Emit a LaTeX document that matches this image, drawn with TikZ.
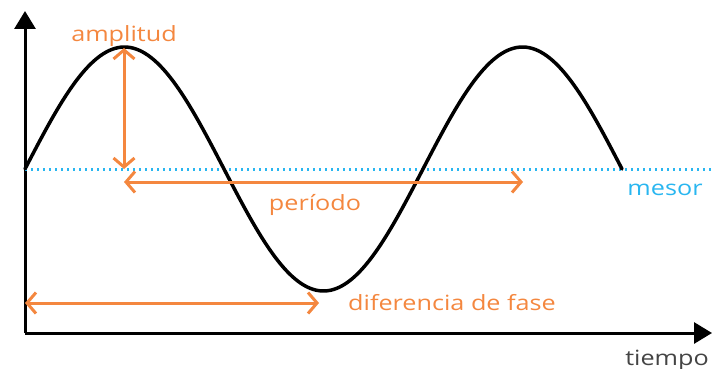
\documentclass[tikz,border=0pt]{standalone}
\usepackage{fontspec}
\setmainfont{Open Sans}[FakeStretch=1.2]
\usetikzlibrary{positioning, arrows.meta}
\definecolor{orangeline}{HTML}{F4873F}
\definecolor{mesorblue}{HTML}{29B6F0}
\definecolor{axisgray}{HTML}{444444}
\tikzset{
    axisline/.style={line width=3pt, -{Triangle[length=18pt,width=21pt]}},
    measure/.style={orangeline, line width=3pt, {Straight Barb[length=9pt,width=21pt]}-{Straight Barb[length=9pt,width=21pt]}},
    lbl/.style={anchor=base, inner sep=0pt}
}

\begin{document}
\begin{tikzpicture}[x=1pt, y=-1pt, font=\fontsize{21}{24}\selectfont]
    \useasboundingbox (0,0) rectangle (712,369);
    % axes
    \coordinate (origin) at (25,333);
    \coordinate (ytip) at (25,11);
    \coordinate (xtip) at (712,333);
    \draw [axisline] (origin) -- (ytip);
    \draw [axisline] (origin) -- (xtip);
    % mesor
    \coordinate (mesorstart) at (25,169);
    \coordinate (mesorend) at (712,169);
    \draw [mesorblue, line width=3pt, dash pattern=on 2pt off 4pt] (mesorstart) -- (mesorend);
    % wave
    \draw [line width=3.5pt, line cap=round] plot [domain=0:597, samples=200, smooth] ({25+\x}, {169-122*sin(\x/398*360)});
    % measures
    \coordinate (peak) at (124,48);
    \coordinate (peakfoot) at (124,169);
    \coordinate (perstart) at (124,182);
    \coordinate (perend) at (523,182);
    \coordinate (phasestart) at (25,303);
    \coordinate (phaseend) at (319,303);
    \draw [measure] (peak) -- (peakfoot);
    \draw [measure] (perstart) -- (perend);
    \draw [measure] (phasestart) -- (phaseend);
    % labels
    \node (amplabel) [lbl, orangeline] at (124,42) {amplitud};
    \node (perlabel) [lbl, orangeline] at (315,210) {período};
    \node (phaselabel) [lbl, orangeline, anchor=base west] at (348,310) {diferencia de fase};
    \node (mesorlabel) [lbl, mesorblue] at (665,195) {mesor};
    \node (timelabel) [lbl, axisgray] at (667,365) {tiempo};
\end{tikzpicture}
\end{document}
